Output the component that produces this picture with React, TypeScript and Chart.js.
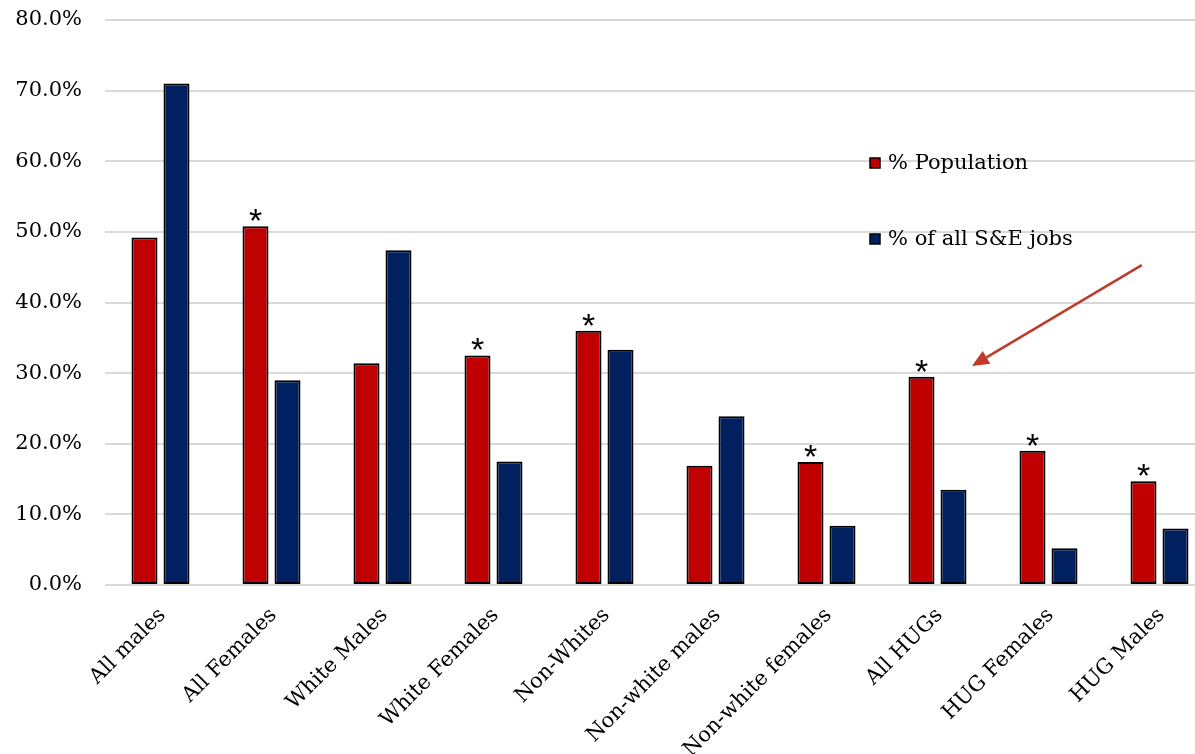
import React, { useEffect, useRef } from 'react';
import { Chart, registerables } from 'chart.js';
Chart.register(...registerables);

const FONT = '"DejaVu Serif", Georgia, serif';

const categories = [
  'All males', 'All Females', 'White Males', 'White Females', 'Non-Whites',
  'Non-white males', 'Non-white females', 'All HUGs', 'HUG Females', 'HUG Males',
];
const populationValues = [49.2, 50.8, 31.4, 32.5, 36.0, 16.9, 17.4, 29.5, 19.0, 14.7];
const jobValues = [71.0, 29.0, 47.4, 17.5, 33.3, 23.9, 8.4, 13.5, 5.2, 8.0];
const significant = [false, true, false, true, true, false, true, true, true, true];
const seriesLabels = ['% Population', '% of all S&E jobs'];
const seriesColors = ['#C00000', '#002060'];
// arrow annotation in data coordinates (category index, percent)
const arrowFrom = { x: 8.84, y: 45.3 };
const arrowTo = { x: 7.31, y: 31.0 };

export default function App() {
  const ref = useRef<HTMLCanvasElement>(null);

  useEffect(() => {
    const overlay = {
      id: 'overlay',
      afterDraw(chart: any) {
        const ctx = chart.ctx;
        const xs = chart.scales.x;
        const ys = chart.scales.y;
        const area = chart.chartArea;
        ctx.save();
        // asterisks
        ctx.font = '34px "Liberation Sans", Arial, sans-serif';
        ctx.fillStyle = '#000';
        ctx.textAlign = 'center';
        ctx.textBaseline = 'alphabetic';
        const m = ctx.measureText('*');
        const meta = chart.getDatasetMeta(0);
        significant.forEach((s, i) => {
          if (!s) return;
          const bar = meta.data[i];
          const baseline = bar.y - 5 - m.actualBoundingBoxDescent;
          ctx.fillText('*', bar.x, baseline);
        });
        // arrow
        const x1 = xs.getPixelForValue(arrowFrom.x);
        const y1 = ys.getPixelForValue(arrowFrom.y);
        const x2 = xs.getPixelForValue(arrowTo.x);
        const y2 = ys.getPixelForValue(arrowTo.y);
        const ang = Math.atan2(y2 - y1, x2 - x1);
        const headLen = 17;
        const headW = 7.5;
        const bx = x2 - headLen * Math.cos(ang);
        const by = y2 - headLen * Math.sin(ang);
        ctx.strokeStyle = '#BF3A2B';
        ctx.fillStyle = '#BF3A2B';
        ctx.lineWidth = 2.5;
        ctx.beginPath();
        ctx.moveTo(x1, y1);
        ctx.lineTo(bx, by);
        ctx.stroke();
        ctx.beginPath();
        ctx.moveTo(x2, y2);
        ctx.lineTo(bx + headW * Math.sin(ang), by - headW * Math.cos(ang));
        ctx.lineTo(bx - headW * Math.sin(ang), by + headW * Math.cos(ang));
        ctx.closePath();
        ctx.fill();
        // legend
        ctx.font = '21px ' + FONT;
        ctx.textAlign = 'left';
        ctx.textBaseline = 'middle';
        seriesLabels.forEach((lab, i) => {
          const lx = area.left + 765;
          const cy = area.top + 143 + i * 76;
          ctx.fillStyle = seriesColors[i];
          ctx.fillRect(lx, cy - 5, 10, 10);
          ctx.strokeStyle = '#000';
          ctx.lineWidth = 1.5;
          ctx.strokeRect(lx, cy - 5, 10, 10);
          ctx.fillStyle = '#000';
          ctx.fillText(lab, lx + 18, cy + 1);
        });
        ctx.restore();
      },
    };

    const chart = new Chart(ref.current as HTMLCanvasElement, {
      type: 'bar',
      data: {
        labels: categories,
        datasets: [
          {
            label: seriesLabels[0],
            data: populationValues,
            backgroundColor: seriesColors[0],
            borderColor: '#000',
            borderWidth: 2,
            borderSkipped: false,
            categoryPercentage: 0.5766,
            barPercentage: 0.8125,
          },
          {
            label: seriesLabels[1],
            data: jobValues,
            backgroundColor: seriesColors[1],
            borderColor: '#000',
            borderWidth: 2,
            borderSkipped: false,
            categoryPercentage: 0.5766,
            barPercentage: 0.8125,
          },
        ],
      },
      options: {
        animation: false,
        responsive: true,
        maintainAspectRatio: false,
        layout: { padding: { top: 20, right: 0, left: 0, bottom: 0 } },
        plugins: {
          legend: { display: false },
          tooltip: { enabled: false },
        },
        scales: {
          x: {
            grid: { display: false, drawTicks: false },
            border: { display: false },
            ticks: {
              font: { family: FONT, size: 21 },
              color: '#000',
              maxRotation: 45,
              minRotation: 45,
              padding: 18,
              labelOffset: 2,
              autoSkip: false,
            },
            afterFit: (s: any) => {
              s.height = 169;
              s.paddingTop = 0; s.paddingBottom = 0; s.paddingLeft = 0; s.paddingRight = 0;
            },
          },
          y: {
            min: 0,
            max: 80,
            ticks: {
              stepSize: 10,
              callback: (v: any) => Number(v).toFixed(1) + '%',
              font: { family: FONT, size: 21 },
              color: '#000',
              padding: 23,
            },
            grid: { color: '#d9d9d9', lineWidth: 2, drawTicks: false },
            border: { display: false },
            afterFit: (s: any) => {
              s.width = 105;
              s.paddingTop = 0; s.paddingBottom = 0; s.paddingLeft = 0; s.paddingRight = 0;
            },
          },
        },
      },
      plugins: [overlay],
    });
    return () => chart.destroy();
  }, []);

  return (
    <div style={{ position: 'absolute', left: 0, top: 0, width: 1195, height: 754, overflow: 'hidden', background: '#fff' }}>
      <div style={{ position: 'relative', width: 1215, height: 754 }}>
        <canvas ref={ref} />
      </div>
    </div>
  );
}
